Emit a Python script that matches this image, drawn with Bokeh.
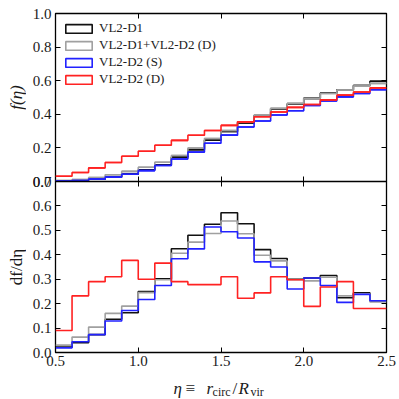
import math
from bokeh.plotting import figure
from bokeh.models import (LinearAxis, FixedTicker, Legend, LegendItem, Label, Range1d,
                          CustomJSTickFormatter, AllLabels)
from bokeh.layouts import column, row
from bokeh.embed import file_html
from bokeh.resources import INLINE

# ---------------- data ----------------
bin_edges = [0.5, 0.6, 0.7, 0.8, 0.9, 1.0, 1.1, 1.2, 1.3, 1.4, 1.5,
             1.6, 1.7, 1.8, 1.9, 2.0, 2.1, 2.2, 2.3, 2.4, 2.5]

series_labels = ["VL2-D1", "VL2-D1+VL2-D2 (D)", "VL2-D2 (S)", "VL2-D2 (D)"]
series_colors = ["#111111", "#a0a0a0", "#2222ff", "#ff2222"]

# cumulative fraction f(eta)
cdf_d1 = [0.003, 0.007, 0.014, 0.027, 0.044, 0.069, 0.099, 0.145, 0.190, 0.246,
          0.298, 0.349, 0.393, 0.433, 0.462, 0.495, 0.526, 0.546, 0.571, 0.597]
cdf_d1d2 = [0.005, 0.012, 0.023, 0.040, 0.060, 0.085, 0.115, 0.155, 0.199, 0.256,
            0.304, 0.355, 0.396, 0.436, 0.465, 0.494, 0.524, 0.545, 0.568, 0.584]
cdf_d2s = [0.002, 0.006, 0.014, 0.026, 0.043, 0.065, 0.095, 0.134, 0.175, 0.228,
           0.276, 0.324, 0.360, 0.396, 0.421, 0.452, 0.479, 0.504, 0.524, 0.546]
cdf_d2d = [0.031, 0.054, 0.081, 0.113, 0.150, 0.180, 0.216, 0.245, 0.275, 0.304,
           0.334, 0.355, 0.385, 0.414, 0.441, 0.458, 0.486, 0.514, 0.533, 0.557]

# differential df/deta
pdf_d1 = [0.022, 0.040, 0.073, 0.136, 0.163, 0.250, 0.302, 0.425, 0.480, 0.525,
          0.572, 0.527, 0.421, 0.385, 0.300, 0.305, 0.315, 0.224, 0.244, 0.211]
pdf_d1d2 = [0.030, 0.063, 0.104, 0.160, 0.190, 0.245, 0.298, 0.406, 0.452, 0.487,
            0.538, 0.486, 0.398, 0.375, 0.298, 0.293, 0.308, 0.232, 0.240, 0.207]
pdf_d2s = [0.019, 0.044, 0.073, 0.129, 0.172, 0.217, 0.274, 0.384, 0.424, 0.514,
           0.494, 0.469, 0.371, 0.350, 0.260, 0.305, 0.274, 0.205, 0.238, 0.212]
pdf_d2d = [0.090, 0.232, 0.290, 0.310, 0.377, 0.300, 0.366, 0.290, 0.278, 0.278,
           0.310, 0.222, 0.244, 0.310, 0.298, 0.189, 0.268, 0.290, 0.180, 0.180]

x_ticks = [0.5, 1.0, 1.5, 2.0, 2.5]
top_yticks = [0.0, 0.2, 0.4, 0.6, 0.8, 1.0]
bot_yticks = [0.0, 0.1, 0.2, 0.3, 0.4, 0.5, 0.6, 0.7]

top_ylabel = "f(η)"
bot_ylabel = "df/dη"

FONT = "Liberation Serif"
TICK_FS = "15px"
LABEL_FS = "17px"
LW = 1.6

# ---------------- geometry (pixels) ----------------
FRAME_W = 331
TOP_H, BOT_H = 168, 171
TOP_MAX, BOT_MAX = 1.0, 0.7
B_TOP, B_BOTTOM, B_RIGHT = 13, 20, 12
YSTRIP_W, B_LEFT = 26, 29
XSTRIP_H = 26

# the lower panel's scale runs over the whole frame; the upper panel sits above 0.7
bot_end = BOT_MAX * (TOP_H + BOT_H) / BOT_H
k_top = bot_end - BOT_MAX                     # lower-panel units per upper-panel unit
top_start = -TOP_MAX * BOT_H / TOP_H


def step_xy(edges, vals):
    # outline of the histogram (end drops lie under the frame spines)
    xs, ys = [], []
    for i, v in enumerate(vals):
        xs += [edges[i], edges[i + 1]]
        ys += [v, v]
    return xs, ys


# combined tick positions for the shared left/right axes
top_tick_pos = [min(BOT_MAX + v * k_top, bot_end) for v in top_yticks]
top_tick_pos[0] = BOT_MAX + 1e-9           # upper panel's 0.0 sits on the lower panel's 0.7
all_yticks = bot_yticks + top_tick_pos

yfmt = CustomJSTickFormatter(args=dict(b=BOT_MAX, k=k_top), code="""
    if (tick <= b + 1e-12) { return tick.toFixed(1); }
    return ((tick - b) / k).toFixed(1);
""")
blank = CustomJSTickFormatter(code="return ''")


def style_axis(ax, formatter):
    ax.axis_line_color = None
    ax.major_tick_in = 5
    ax.major_tick_out = 0
    ax.major_tick_line_color = "black"
    ax.major_tick_line_width = 1
    ax.minor_tick_line_color = None
    ax.major_label_text_font = FONT
    ax.major_label_text_font_size = TICK_FS
    ax.major_label_text_color = "#1a1a1a"
    ax.major_label_policy = AllLabels()
    ax.formatter = formatter


p = figure(frame_width=FRAME_W, frame_height=TOP_H + BOT_H,
           x_range=Range1d(0.5, 2.5), y_range=Range1d(0.0, bot_end),
           output_backend="svg", toolbar_location=None,
           min_border_left=B_LEFT, min_border_right=B_RIGHT,
           min_border_top=B_TOP, min_border_bottom=B_BOTTOM)
p.extra_y_ranges = {"top": Range1d(top_start, TOP_MAX)}
p.grid.visible = False
p.outline_line_color = "black"
p.outline_line_width = 1.3
p.background_fill_color = "white"
p.border_fill_color = "white"

yl = p.yaxis[0]
yl.ticker = FixedTicker(ticks=all_yticks)
style_axis(yl, yfmt)
yl.major_label_standoff = 4

xb = p.xaxis[0]
xb.ticker = FixedTicker(ticks=x_ticks)
style_axis(xb, CustomJSTickFormatter(code="return tick.toFixed(1)"))
xb.major_label_standoff = 3

yr = LinearAxis(ticker=FixedTicker(ticks=all_yticks))
style_axis(yr, blank)
yr.major_label_standoff = 0
p.add_layout(yr, "right")

xt = LinearAxis(ticker=FixedTicker(ticks=x_ticks))
style_axis(xt, blank)
xt.major_label_standoff = 0
p.add_layout(xt, "above")

# divider between the panels: ticks up (upper panel) and down (lower panel)
x_mid_up = LinearAxis(fixed_location=BOT_MAX, ticker=FixedTicker(ticks=x_ticks))
style_axis(x_mid_up, blank)
x_mid_up.axis_line_color = "black"
x_mid_up.axis_line_width = 1.4
p.add_layout(x_mid_up, "below")
x_mid_dn = LinearAxis(fixed_location=BOT_MAX, ticker=FixedTicker(ticks=x_ticks))
style_axis(x_mid_dn, blank)
p.add_layout(x_mid_dn, "above")

# ---------------- curves ----------------
cdfs = [cdf_d1, cdf_d1d2, cdf_d2s, cdf_d2d]
pdfs = [pdf_d1, pdf_d1d2, pdf_d2s, pdf_d2d]
items = []
for lab, col, cvals, pvals in zip(series_labels, series_colors, cdfs, pdfs):
    xs, ys = step_xy(bin_edges, cvals)
    p.line(xs, ys, line_color=col, line_width=LW, y_range_name="top")
    # bin tops as zero-height boxes over the step's flats: box-shaped legend key
    q = p.quad(left=bin_edges[:-1], right=bin_edges[1:], top=cvals, bottom=cvals,
               fill_color=None, line_color=col, line_width=LW, y_range_name="top")
    items.append(LegendItem(label=lab, renderers=[q]))
    xs, ys = step_xy(bin_edges, pvals)
    p.line(xs, ys, line_color=col, line_width=LW)

legend = Legend(items=items, location="top_left", margin=7, padding=0, spacing=1,
                label_height=16, glyph_height=11, glyph_width=33, label_standoff=4,
                label_text_font=FONT, label_text_font_size="13px",
                label_text_color="#222222", border_line_color=None,
                background_fill_alpha=0.0)
p.add_layout(legend)

# ---------------- y-axis titles strip ----------------
p_y = figure(frame_width=YSTRIP_W, frame_height=TOP_H + BOT_H,
             x_range=Range1d(0, YSTRIP_W), y_range=Range1d(0.0, bot_end),
             output_backend="svg", toolbar_location=None,
             x_axis_location=None, y_axis_location=None,
             min_border_left=0, min_border_right=0,
             min_border_top=B_TOP, min_border_bottom=B_BOTTOM)
p_y.grid.visible = False
p_y.outline_line_color = None
p_y.border_fill_color = "white"
p_y.add_layout(Label(x=16, y=BOT_MAX + 0.5 * TOP_MAX * k_top, text=top_ylabel, angle=math.pi / 2,
                     text_font=FONT, text_font_size=LABEL_FS, text_font_style="italic",
                     text_color="#1a1a1a", text_align="center", text_baseline="middle"))
p_y.add_layout(Label(x=16, y=0.5 * BOT_MAX, text=bot_ylabel, angle=math.pi / 2,
                     text_font=FONT, text_font_size=LABEL_FS,
                     text_color="#1a1a1a", text_align="center", text_baseline="middle"))

# ---------------- x-axis title strip: η ≡ r_circ / R_vir ----------------
p_x = figure(frame_width=FRAME_W, frame_height=XSTRIP_H,
             x_range=Range1d(0.5, 2.5), y_range=Range1d(XSTRIP_H, 0),
             output_backend="svg", toolbar_location=None,
             x_axis_location=None, y_axis_location=None,
             min_border_left=YSTRIP_W + B_LEFT, min_border_right=B_RIGHT,
             min_border_top=0, min_border_bottom=0)
p_x.grid.visible = False
p_x.outline_line_color = None
p_x.border_fill_color = "white"

main_y, sub_y = 16, 19
pieces = [
    ("η", 1.213, main_y, "17px", "italic"),
    ("≡", 1.286, main_y, "17px", "normal"),
    ("r", 1.412, main_y, "17px", "italic"),
    ("circ", 1.449, sub_y, "12px", "normal"),
    ("/", 1.569, main_y, "17px", "normal"),
    ("R", 1.606, main_y, "17px", "italic"),
    ("vir", 1.678, sub_y, "12px", "normal"),
]
for txt, xx, yy, fs, st in pieces:
    p_x.add_layout(Label(x=xx, y=yy, text=txt,
                         text_font=FONT, text_font_size=fs, text_font_style=st,
                         text_color="#1a1a1a", text_baseline="alphabetic",
                         text_align="left"))

layout = column(row(p_y, p, spacing=0), p_x, spacing=0)
open("out.html", "w").write(file_html(layout, INLINE))
